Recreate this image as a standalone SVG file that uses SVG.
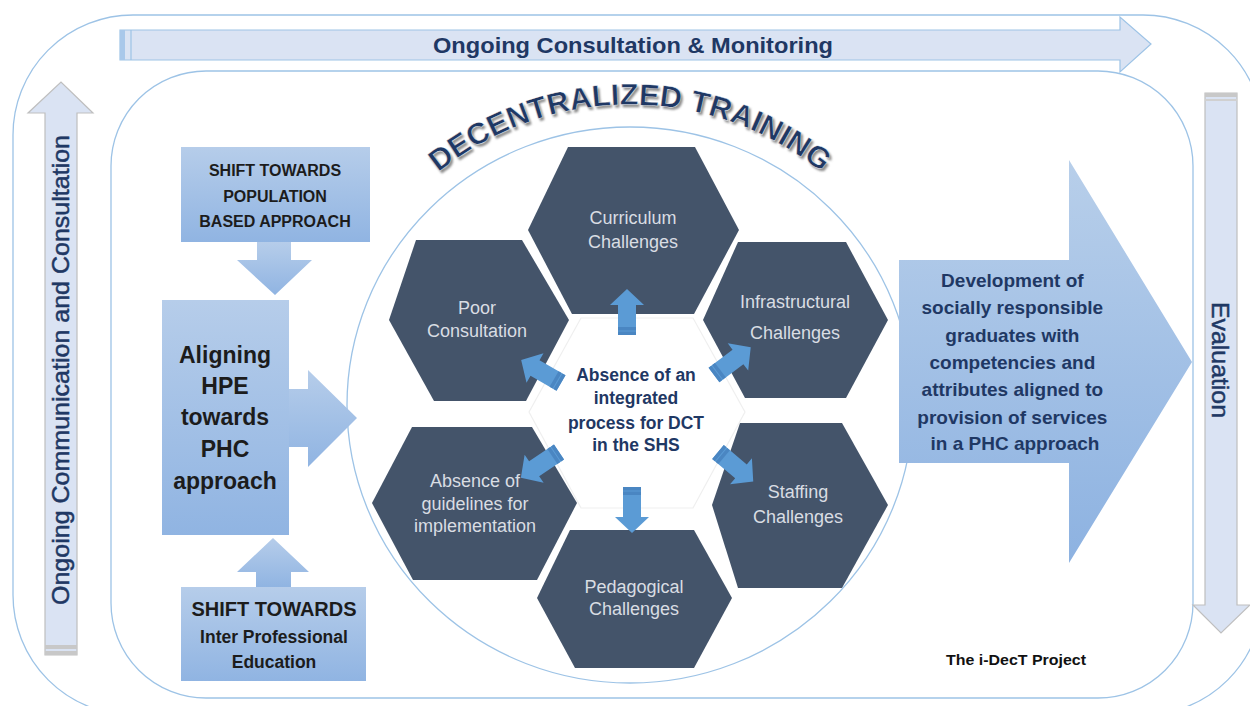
<svg xmlns="http://www.w3.org/2000/svg" width="1250" height="706" viewBox="0 0 1250 706">
<defs>
  <linearGradient id="gBox" x1="0" y1="0" x2="0" y2="1">
    <stop offset="0" stop-color="#b6cdea"/>
    <stop offset="1" stop-color="#90b4e2"/>
  </linearGradient>
  <linearGradient id="gBig" x1="0" y1="0" x2="0" y2="1">
    <stop offset="0" stop-color="#b8cfea"/>
    <stop offset="1" stop-color="#8db2e1"/>
  </linearGradient>
  <path id="arcPath" d="M 434 176 A 305 305 0 0 1 826 176" fill="none"/>
  <g id="sArrow">
    <polygon points="-9,0 9,0 9,-30 17,-30 0,-46 -17,-30 -9,-30" fill="#5b9bd5"/>
    <rect x="-9" y="-8" width="18" height="3.5" fill="#4a86c2"/>
    <rect x="-9" y="-3.5" width="18" height="3.5" fill="#4a86c2"/>
  </g>
  <filter id="blur" x="-10%" y="-10%" width="120%" height="120%"><feGaussianBlur stdDeviation="0.9"/></filter>
</defs>
<style>
  .frame{fill:none;stroke:#9dc3e6;stroke-width:1.3}
  .pale{fill:#dae3f3}
  .hex{fill:#44546a}
  .ht{font-family:"Liberation Sans",Arial,sans-serif;font-size:18px;fill:#d9dde3;text-anchor:middle}
  .dk{font-family:"Liberation Sans",Arial,sans-serif;fill:#1f3864;text-anchor:middle}
  .semi{stroke:#1f3864;stroke-width:0.5}
  .bk{font-family:"Liberation Sans",Arial,sans-serif;fill:#1c1c1c;font-weight:bold;text-anchor:middle}
  .box{fill:url(#gBox)}
</style>
<rect width="1250" height="706" fill="#ffffff"/>

<g id="frames">
  <rect class="frame" x="13" y="15" width="1250" height="700" rx="120"/>
  <rect class="frame" x="111" y="71" width="1082" height="627" rx="95"/>
  <ellipse class="frame" cx="630" cy="405" rx="283" ry="278" stroke-width="1.1"/>
</g>

<g id="top-arrow">
  <polygon class="pale" points="120,30 1120,30 1120,17 1151,44 1120,72 1120,60 120,60" stroke="#9dc3e6" stroke-width="1.2"/>
  <rect x="120" y="30" width="5" height="30" fill="#a9c8ea"/>
  <line x1="131" y1="30" x2="131" y2="60" stroke="#9dc3e6" stroke-width="1.2"/>
  <text class="dk" x="633" y="53" font-size="22" font-weight="bold" textLength="400" lengthAdjust="spacingAndGlyphs">Ongoing Consultation &amp; Monitoring</text>
</g>

<g id="left-arrow">
  <polygon class="pale" points="45,655 45,113 28,113 61,82 93,113 77,113 77,655" stroke="#bfbfbf" stroke-width="1.2"/>
  <rect x="45" y="645" width="32" height="4" fill="#c8c8c8"/>
  <rect x="45" y="651" width="32" height="4" fill="#c8c8c8"/>
  <text class="dk semi" transform="translate(69,370) rotate(-90)" x="0" y="0" font-size="24" textLength="470" lengthAdjust="spacingAndGlyphs">Ongoing Communication and Consultation</text>
</g>

<g id="evaluation-arrow">
  <polygon class="pale" points="1205,93 1237,93 1237,605 1250,605 1221,633 1193,605 1205,605" stroke="#bfbfbf" stroke-width="1.2"/>
  <rect x="1205" y="93" width="32" height="4" fill="#c8c8c8"/>
  <rect x="1205" y="99" width="32" height="2" fill="#d0d0d0"/>
  <text class="dk semi" transform="translate(1212,360) rotate(90)" x="0" y="0" font-size="24" textLength="116" lengthAdjust="spacingAndGlyphs">Evaluation</text>
</g>

<g id="title-arc">
  <text font-family="'Liberation Sans',Arial,sans-serif" font-size="30" font-weight="bold" fill="#8c8c8c" filter="url(#blur)" transform="translate(2,2.5)"><textPath href="#arcPath" startOffset="50%" text-anchor="middle" textLength="414" lengthAdjust="spacingAndGlyphs">DECENTRALIZED TRAINING</textPath></text>
  <text font-family="'Liberation Sans',Arial,sans-serif" font-size="30" font-weight="bold" fill="#1f3864" stroke="#ffffff" stroke-width="0.4"><textPath href="#arcPath" startOffset="50%" text-anchor="middle" textLength="414" lengthAdjust="spacingAndGlyphs">DECENTRALIZED TRAINING</textPath></text>
</g>

<g id="shift-population">
  <rect class="box" x="181" y="147" width="189" height="95"/>
  <text class="bk" font-size="16"><tspan x="275" y="176">SHIFT TOWARDS</tspan><tspan x="275" y="202">POPULATION</tspan><tspan x="275" y="227">BASED APPROACH</tspan></text>
</g>

<g id="aligning">
  <rect class="box" x="162" y="300" width="127" height="235"/>
  <text class="bk" font-size="23"><tspan x="225" y="363">Aligning</tspan><tspan x="225" y="394">HPE</tspan><tspan x="225" y="425">towards</tspan><tspan x="225" y="457">PHC</tspan><tspan x="225" y="489">approach</tspan></text>
</g>

<g id="shift-ipe">
  <rect class="box" x="181" y="587" width="185" height="94"/>
  <text class="bk" font-size="20" x="274" y="616">SHIFT TOWARDS</text>
  <text class="bk" font-size="17.5"><tspan x="274" y="643">Inter Professional</tspan><tspan x="274" y="668">Education</tspan></text>
</g>

<g id="development">
  <polygon points="899,260 1069,260 1069,160 1192,362 1069,563 1069,463 899,463" fill="url(#gBig)"/>
  <text class="dk" font-size="19" font-weight="bold">
    <tspan x="1015" y="287">Development of</tspan>
    <tspan x="1015" y="314">socially responsible</tspan>
    <tspan x="1015" y="342">graduates with</tspan>
    <tspan x="1015" y="369">competencies and</tspan>
    <tspan x="1015" y="396">attributes aligned to</tspan>
    <tspan x="1015" y="424">provision of services</tspan>
    <tspan x="1015" y="450">in a PHC approach</tspan>
  </text>
</g>

<g id="center-hex">
  <polygon points="529,412 581,318 693,318 745,412 693,508 581,508" fill="#ffffff" stroke="#efefef" stroke-width="1.2"/>
  <text class="dk" font-size="17.5" font-weight="bold"><tspan x="636" y="381">Absence of an</tspan><tspan x="636" y="404">integrated</tspan><tspan x="636" y="429">process for DCT</tspan><tspan x="636" y="451">in the SHS</tspan></text>
</g>

<g id="hex-curriculum">
  <polygon class="hex" points="528,230 568,147 695,147 739,230 694,314 572,314"/>
  <text class="ht"><tspan x="633" y="224">Curriculum</tspan><tspan x="633" y="248">Challenges</tspan></text>
</g>
<g id="hex-poor">
  <polygon class="hex" points="389,320 416,240 522,240 569,320 526,401 434,401"/>
  <text class="ht"><tspan x="477" y="314">Poor</tspan><tspan x="477" y="337">Consultation</tspan></text>
</g>
<g id="hex-infrastructural">
  <polygon class="hex" points="703,320 738,242 846,242 888,320 846,398 745,398"/>
  <text class="ht"><tspan x="795" y="308">Infrastructural</tspan><tspan x="795" y="339">Challenges</tspan></text>
</g>
<g id="hex-guidelines">
  <polygon class="hex" points="372,503 412,427 532,427 577,503 537,580 413,580"/>
  <text class="ht"><tspan x="475" y="487">Absence of</tspan><tspan x="475" y="510">guidelines for</tspan><tspan x="475" y="532">implementation</tspan></text>
</g>
<g id="hex-staffing">
  <polygon class="hex" points="712,505 740,423 842,423 888,505 842,588 738,588"/>
  <text class="ht"><tspan x="798" y="498">Staffing</tspan><tspan x="798" y="523">Challenges</tspan></text>
</g>
<g id="hex-pedagogical">
  <polygon class="hex" points="537,598 570,530 694,530 732,598 694,668 575,668"/>
  <text class="ht"><tspan x="634" y="593">Pedagogical</tspan><tspan x="634" y="615">Challenges</tspan></text>
</g>

<g id="connectors">
  <polygon class="box" points="257,242 291,242 291,260 312,260 275,295 237,260 257,260"/>
  <polygon class="box" points="289,389 308,389 308,370 357,418 308,467 308,447 289,447"/>
  <polygon class="box" points="256,587 291,587 291,572 309,572 273,538 237,572 256,572"/>
  <use href="#sArrow" transform="translate(627,335)"/>
  <use href="#sArrow" transform="translate(632,487) rotate(180)"/>
  <use href="#sArrow" transform="translate(561,383) rotate(-60)"/>
  <use href="#sArrow" transform="translate(714,375) rotate(53)"/>
  <use href="#sArrow" transform="translate(559,452) rotate(-124)"/>
  <use href="#sArrow" transform="translate(718,452) rotate(130)"/>
</g>

<g id="credit">
  <text x="1016" y="665" font-family="'Liberation Sans',Arial,sans-serif" font-size="14.5" font-weight="bold" fill="#111111" text-anchor="middle" textLength="140" lengthAdjust="spacingAndGlyphs">The i-DecT Project</text>
</g>
</svg>
